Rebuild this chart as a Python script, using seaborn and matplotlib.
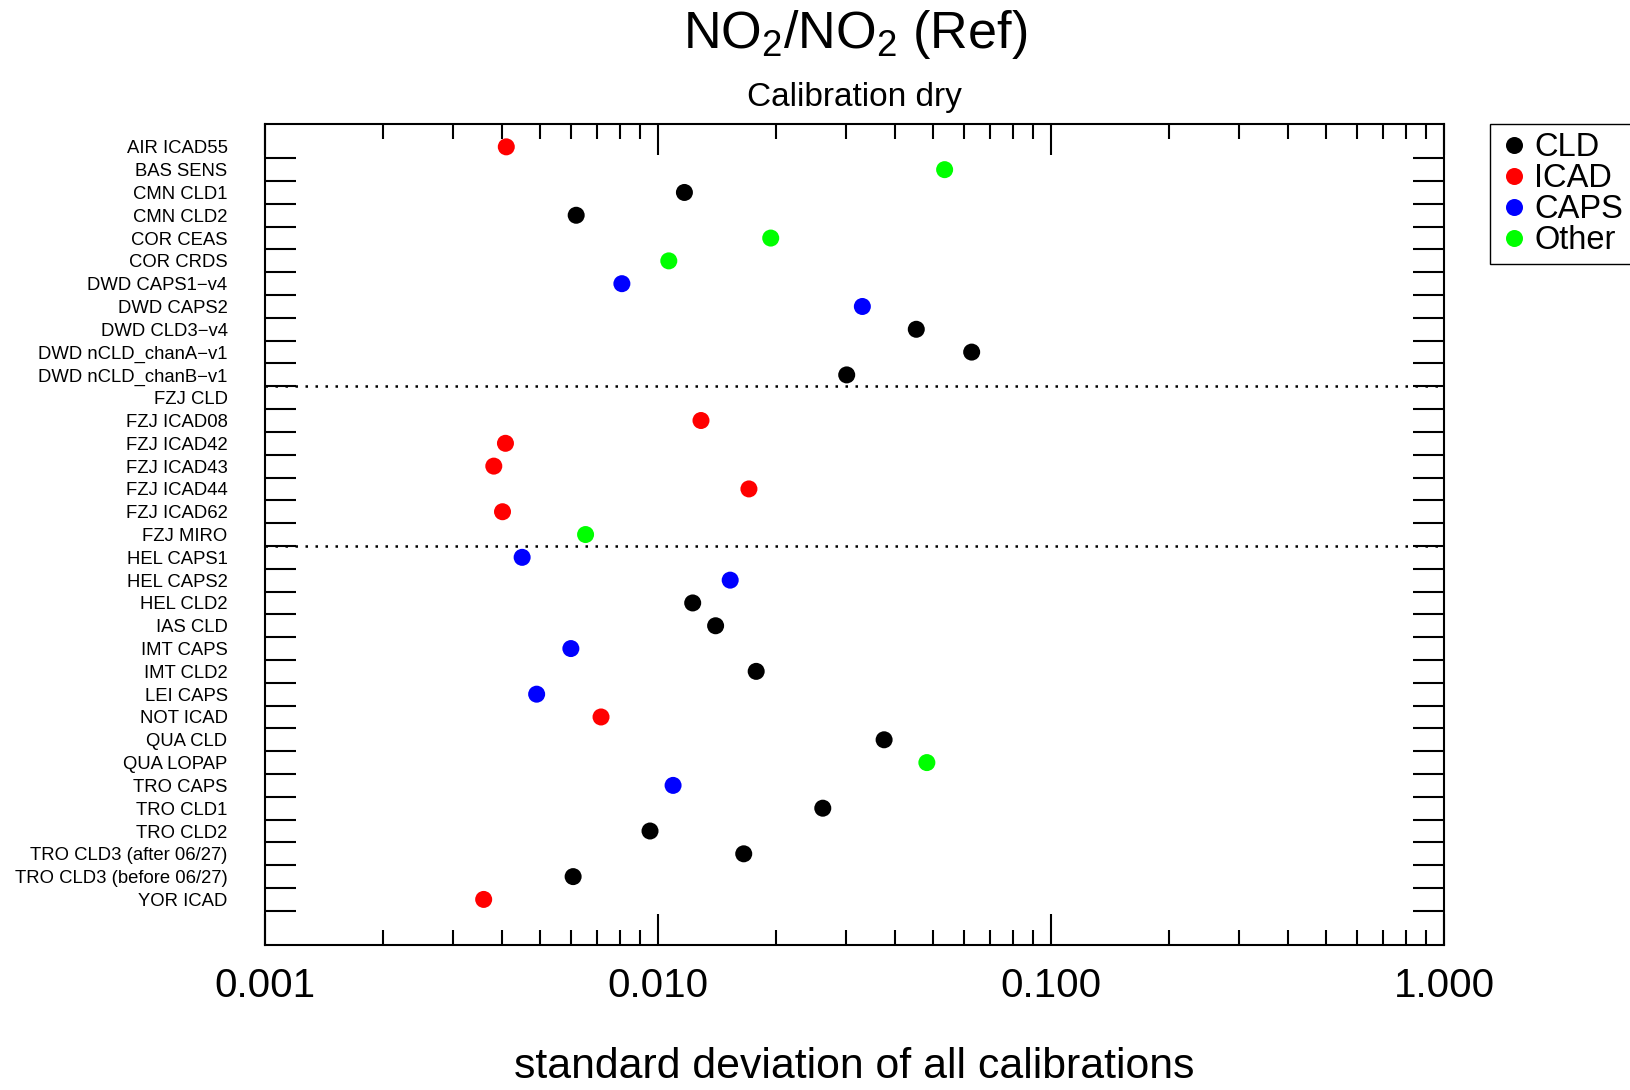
import numpy as np
import pandas as pd
import matplotlib
matplotlib.use("Agg")
import matplotlib.pyplot as plt
import matplotlib.ticker as mticker
import seaborn as sns

# instruments (top to bottom) and their std dev of all calibrations
instruments = [
    "AIR ICAD55", "BAS SENS", "CMN CLD1", "CMN CLD2", "COR CEAS", "COR CRDS",
    "DWD CAPS1\u2212v4", "DWD CAPS2", "DWD CLD3\u2212v4", "DWD nCLD_chanA\u2212v1",
    "DWD nCLD_chanB\u2212v1", "FZJ CLD", "FZJ ICAD08", "FZJ ICAD42", "FZJ ICAD43",
    "FZJ ICAD44", "FZJ ICAD62", "FZJ MIRO", "HEL CAPS1", "HEL CAPS2", "HEL CLD2",
    "IAS CLD", "IMT CAPS", "IMT CLD2", "LEI CAPS", "NOT ICAD", "QUA CLD",
    "QUA LOPAP", "TRO CAPS", "TRO CLD1", "TRO CLD2", "TRO CLD3 (after 06/27)",
    "TRO CLD3 (before 06/27)", "YOR ICAD",
]
groups = [
    "ICAD", "Other", "CLD", "CLD", "Other", "Other",
    "CAPS", "CAPS", "CLD", "CLD",
    "CLD", "CLD", "ICAD", "ICAD", "ICAD",
    "ICAD", "ICAD", "Other", "CAPS", "CAPS", "CLD",
    "CLD", "CAPS", "CLD", "CAPS", "ICAD", "CLD",
    "Other", "CAPS", "CLD", "CLD", "CLD",
    "CLD", "ICAD",
]
std_dev = [
    0.00411, 0.0536, 0.01167, 0.00619, 0.01935, 0.01065,
    0.00809, 0.0331, 0.0454, 0.0628,
    0.0302, np.nan, 0.01286, 0.00409, 0.00382,
    0.01703, 0.00402, 0.00654, 0.00451, 0.01526, 0.01225,
    0.01401, 0.0060, 0.01777, 0.00491, 0.00716, 0.0376,
    0.0483, 0.01092, 0.02625, 0.00954, 0.01652,
    0.00608, 0.0036,
]
group_order = ["CLD", "ICAD", "CAPS", "Other"]
group_colors = {"CLD": "#000000", "ICAD": "#ff0000", "CAPS": "#0000ff", "Other": "#00ff00"}
x_ticks = [0.001, 0.01, 0.1, 1.0]
x_tick_labels = ["0.001", "0.010", "0.100", "1.000"]
separators = [10.5, 17.5]

df = pd.DataFrame({"instrument": instruments, "group": groups, "std": std_dev})
df["pos"] = np.arange(len(df))

sns.set_style("ticks")
plt.rcParams["font.family"] = ["Liberation Sans", "DejaVu Sans"]
plt.rcParams["mathtext.fontset"] = "custom"
plt.rcParams["mathtext.rm"] = "Liberation Sans"
plt.rcParams["mathtext.it"] = "Liberation Sans:italic"
for key in ["text.color", "axes.labelcolor", "xtick.color", "ytick.color"]:
    plt.rcParams[key] = "black"

fig = plt.figure(figsize=(16.31, 10.90), dpi=100)
ax = fig.add_axes([0.1625, 0.1330, 0.7229, 0.7532])

sns.scatterplot(data=df, x="std", y="pos", hue="group", hue_order=group_order,
                palette=group_colors, s=150, linewidth=0, ax=ax)

ax.set_xscale("log")
ax.set_xlim(0.001, 1.0)
ax.set_ylim(35, -1)

for y in separators:
    ax.axhline(y, color="black", lw=1.8, ls=(0, (1, 3)))

# y: labels at rows, long ticks between rows
ax.set_yticks(df["pos"])
ax.set_yticklabels(df["instrument"], fontsize=13.3)
ax.yaxis.set_minor_locator(mticker.FixedLocator(np.arange(len(df)) + 0.5))
ax.tick_params(axis="y", which="major", length=0, pad=27)
ax.tick_params(axis="y", which="minor", left=True, right=True, direction="in",
               length=22, width=1.5)

# x: log axis
ax.xaxis.set_major_locator(mticker.FixedLocator(x_ticks))
ax.xaxis.set_major_formatter(mticker.FixedFormatter(x_tick_labels))
ax.xaxis.set_minor_locator(mticker.LogLocator(base=10, subs=np.arange(2, 10)))
ax.xaxis.set_minor_formatter(mticker.NullFormatter())
ax.tick_params(axis="x", which="major", top=True, bottom=True, direction="in",
               length=22, width=1.5, labelsize=29, pad=16)
ax.tick_params(axis="x", which="minor", top=True, bottom=True, direction="in",
               length=11, width=1.5)

for sp in ax.spines.values():
    sp.set_linewidth(1.5)
    sp.set_color("black")

ax.set_ylabel("")
ax.set_xlabel("standard deviation of all calibrations", fontsize=30.8, labelpad=30)

fig.text(0.524, 1 - 48 / 1090, r"NO$_2$/NO$_2$ (Ref)", fontsize=37.5,
         ha="center", va="baseline")
fig.text(0.524, 1 - 106 / 1090, "Calibration dry", fontsize=24,
         ha="center", va="baseline")

handles, labels = ax.get_legend_handles_labels()
leg = ax.legend(handles, labels, loc="upper left",
                bbox_to_anchor=(1490 / 1631, 1 - 124 / 1090),
                bbox_transform=fig.transFigure, borderaxespad=0,
                fontsize=23.5, frameon=True, fancybox=False, framealpha=1,
                edgecolor="black", handletextpad=0.1, handlelength=1.0,
                labelspacing=0.0, borderpad=0.25, markerscale=1.0)
leg.get_frame().set_linewidth(1.0)

fig.savefig("out.png", dpi=100)
